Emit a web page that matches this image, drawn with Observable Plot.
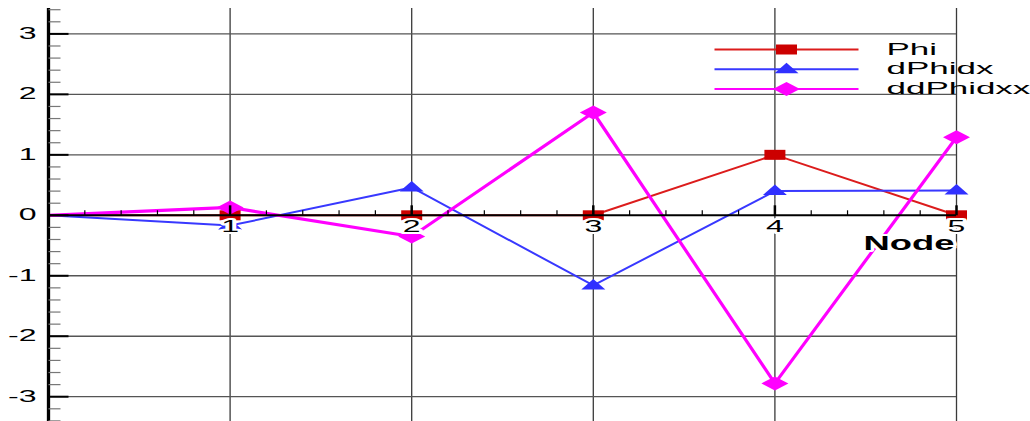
<!DOCTYPE html>
<html>
<head>
<meta charset="utf-8">
<script src="https://cdn.jsdelivr.net/npm/d3@7"></script>
<script src="https://cdn.jsdelivr.net/npm/@observablehq/plot@0.6"></script>
<style>
  html, body { margin: 0; padding: 0; background: #fff; }
  #chart { width: 1030px; height: 421px; overflow: hidden; }
  #chart text { paint-order: stroke; }
</style>
</head>
<body>
<div id="chart"></div>
<script>
// Node positions and the three nodal fields
const nodes    = [0, 1, 2, 3, 4, 5];
const phi      = [0, 0, 0, 0, 1, 0];
const dPhidx   = [0, -0.17, 0.46, -1.16, 0.40, 0.41];
const ddPhidxx = [0, 0.13, -0.35, 1.70, -2.78, 1.29];

const seriesNames = ["Phi", "dPhidx", "ddPhidxx"];
const xTickValues = [1, 2, 3, 4, 5];
const yTickValues = [-3, -2, -1, 0, 1, 2, 3];
const xAxisTitle = "Node";

// Custom symbols (fixed pixel geometry)
const symbol = (draw) => ({draw});
const square   = symbol(c => { c.moveTo(-10.5, -5); c.lineTo(10.5, -5); c.lineTo(10.5, 5); c.lineTo(-10.5, 5); c.closePath(); });
const triangle = symbol(c => { c.moveTo(0, -6.5); c.lineTo(12, 4); c.lineTo(-12, 4); c.closePath(); });
const diamond  = symbol(c => { c.moveTo(0, -7); c.lineTo(13.5, 0); c.lineTo(0, 7); c.lineTo(-13.5, 0); c.closePath(); });
const yMajorTick = symbol(c => { c.moveTo(0, 0); c.lineTo(20, 0); });
const yMinorTick = symbol(c => { c.moveTo(0, 0); c.lineTo(12, 0); });
const xMajorTick = symbol(c => { c.moveTo(0, 0); c.lineTo(0, -10); });
const xMinorTick = symbol(c => { c.moveTo(0, 0); c.lineTo(0, -5); });
const legendStroke = symbol(c => { c.moveTo(-72, 0); c.lineTo(72, 0); });

const style = {
  Phi:      {line: "#dc1c1c", fill: "#cc0000", width: 2,   symbol: square},
  dPhidx:   {line: "#3838ff", fill: "#3030ff", width: 2,   symbol: triangle},
  ddPhidxx: {line: "#ff00ff", fill: "#ff00ff", width: 3.2, symbol: diamond}
};

const rows = nodes.map((n, i) => ({node: n, Phi: phi[i], dPhidx: dPhidx[i], ddPhidxx: ddPhidxx[i]}));
const markerRows = rows.filter(d => d.node > 0);

// Minor tick positions every 0.2
const yMinor = d3.range(-17, 18).map(k => k / 5).filter(v => Math.abs(v - Math.round(v)) > 1e-6);
const xMinor = d3.range(1, 25).map(k => k / 5).filter(v => Math.abs(v - Math.round(v)) > 1e-6);

const marks = [
  // grid
  Plot.ruleX(xTickValues, {x: d => d, stroke: "#3a3a3a", strokeWidth: 1.3}),
  Plot.ruleY(yTickValues.filter(v => v !== 0), {y: d => d, stroke: "#555", strokeWidth: 1.3}),
];

// series lines
for (const name of seriesNames) {
  marks.push(Plot.line(rows, {x: "node", y: name, stroke: style[name].line, strokeWidth: style[name].width}));
}
// series markers
for (const name of seriesNames) {
  marks.push(Plot.dot(markerRows, {x: "node", y: name, symbol: style[name].symbol, fill: style[name].fill, stroke: "none"}));
}

// axes
marks.push(
  Plot.ruleY([0], {y: d => d, stroke: "black", strokeWidth: 2}),
  Plot.ruleX([0], {x: d => d, stroke: "black", strokeWidth: 3.3}),
  Plot.dot(yMinor, {x: () => 0, y: d => d, symbol: yMinorTick, stroke: "#777", strokeWidth: 1.2, fill: "none"}),
  Plot.dot(yTickValues, {x: () => 0, y: d => d, symbol: yMajorTick, stroke: "black", strokeWidth: 2, fill: "none"}),
  Plot.dot(xMinor, {x: d => d, y: () => 0, symbol: xMinorTick, stroke: "black", strokeWidth: 1.2, fill: "none"}),
  Plot.dot(xTickValues, {x: d => d, y: () => 0, symbol: xMajorTick, stroke: "black", strokeWidth: 2.5, fill: "none"}),
  Plot.text(yTickValues, {x: () => 0, y: d => d, text: d => String(d), dx: -12, textAnchor: "end", lineAnchor: "middle", fontSize: 16, fill: "black"}),
  Plot.text(xTickValues, {x: d => d, y: () => 0, text: d => String(d), dy: 11.5, textAnchor: "middle", lineAnchor: "middle", fontSize: 16, fill: "black", stroke: "white", strokeWidth: 4}),
  Plot.text([xAxisTitle], {x: () => 5, y: () => 0, text: d => d, dx: -2, dy: 35, textAnchor: "end", lineAnchor: "bottom", fontSize: 20, fontWeight: "bold", fill: "black", stroke: "white", strokeWidth: 4})
);

// legend
seriesNames.forEach((name, i) => {
  const dy = 41 + i * 19.7;
  marks.push(
    Plot.dot([name], {frameAnchor: "top-right", dx: -170, dy, symbol: legendStroke, stroke: style[name].line, strokeWidth: 2, fill: "none"}),
    Plot.dot([name], {frameAnchor: "top-right", dx: -170, dy, symbol: style[name].symbol, fill: style[name].fill, stroke: "none"}),
    Plot.text([name], {frameAnchor: "top-right", dx: -70, dy, text: d => d, textAnchor: "start", lineAnchor: "middle", fontSize: 16.5, fill: "black"})
  );
});

const svg = Plot.plot({
  width: 1030,
  height: 421,
  marginLeft: 48,
  marginRight: 74,
  marginTop: 8,
  marginBottom: 0,
  style: {fontFamily: "'Liberation Sans', Arial, sans-serif", fontSize: "16px", background: "white", overflow: "visible"},
  x: {axis: null, domain: [0, 5]},
  y: {axis: null, domain: [-3.41, 3.42]},
  marks
});

// Wide-set lettering: stretch each label horizontally about its anchor
svg.querySelectorAll("text").forEach(t => {
  const g = t.closest("g");
  const bold = g && g.getAttribute("font-weight") === "bold";
  const legend = g && g.getAttribute("font-size") === "16.5";
  const k = bold ? 1.82 : legend ? 2.12 : 2;
  t.setAttribute("transform", (t.getAttribute("transform") || "") + ` scale(${k},1)`);
});

document.getElementById("chart").appendChild(svg);
</script>
</body>
</html>
